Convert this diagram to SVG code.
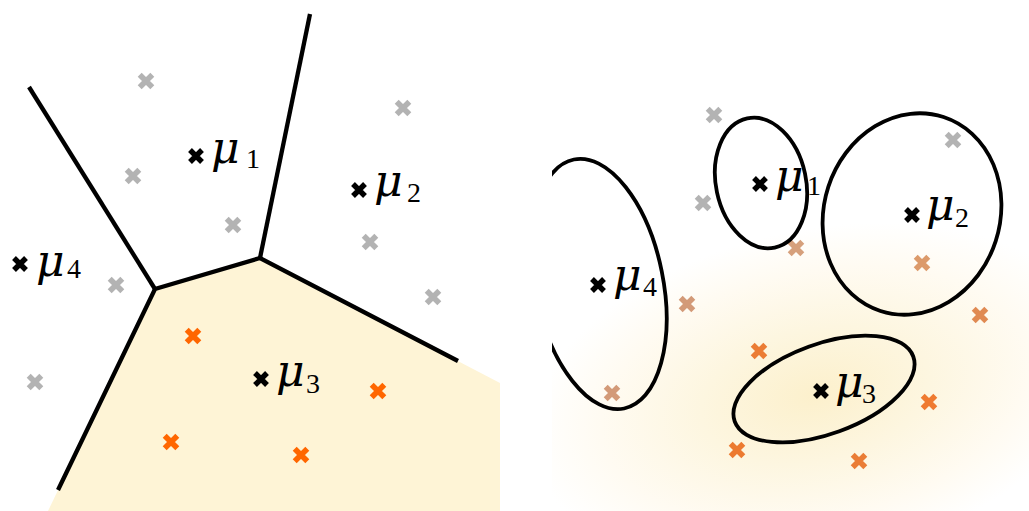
<svg xmlns="http://www.w3.org/2000/svg" width="1029" height="511" viewBox="0 0 1029 511">
  <style>
    .wall { fill: none; stroke: #000; stroke-width: 4.3; stroke-linejoin: miter; }
    .ell { fill: none; stroke: #000; stroke-width: 3.8; }
    .mu { font-family: "DejaVu Serif", "Liberation Serif", serif; font-style: italic; font-size: 44px; fill: #000; }
    .sub { font-family: "Liberation Serif", "DejaVu Serif", serif; font-size: 28px; fill: #000; }
  </style>
  <defs>
    <path id="x" d="M-6.3,-6.3 L6.3,6.3 M-6.3,6.3 L6.3,-6.3" stroke-width="5.6" fill="none"/>
    <path id="xb" d="M-6,-6 L6,6 M-6,6 L6,-6" stroke="#000" stroke-width="5.4" fill="none"/>
    <radialGradient id="glow" gradientUnits="userSpaceOnUse" cx="0" cy="0" r="1" gradientTransform="translate(815 395) rotate(-12) scale(290 165)">
      <stop offset="0" stop-color="#fcf0cc"/>
      <stop offset="0.4" stop-color="#fdf6e0"/>
      <stop offset="0.75" stop-color="#fffbf2"/>
      <stop offset="1" stop-color="#ffffff"/>
    </radialGradient>
    <clipPath id="rclip"><rect x="552" y="0" width="477" height="511"/></clipPath>
  </defs>
  <rect width="1029" height="511" fill="#fff"/>

  <!-- LEFT PANEL -->
  <g id="left-region3">
    <polygon points="155,289 260,258 500,383 500,511 48,511" fill="#fef4d6"/>
  </g>
  <g id="connectors">
    <line class="wall" x1="29" y1="87" x2="155" y2="289"/>
    <line class="wall" x1="310" y1="14" x2="260" y2="258"/>
    <polyline class="wall" points="58,490 155,289 260,258 458,361"/>
  </g>
  <g id="left-points">
    <g stroke="#b3b3b3">
      <use href="#x" x="146" y="81"/>
      <use href="#x" x="403" y="108"/>
      <use href="#x" x="133" y="176"/>
      <use href="#x" x="233" y="225"/>
      <use href="#x" x="370" y="242"/>
      <use href="#x" x="116" y="285"/>
      <use href="#x" x="433" y="297"/>
      <use href="#x" x="35" y="382"/>
    </g>
    <g stroke="#ff6600">
      <use href="#x" x="193" y="336"/>
      <use href="#x" x="378" y="391"/>
      <use href="#x" x="171" y="442"/>
      <use href="#x" x="301" y="455"/>
    </g>
  </g>
  <g id="left-mu1">
    <use href="#xb" x="196" y="156"/>
    <text class="mu" x="211" y="163">μ</text><text class="sub" x="246" y="168">1</text>
  </g>
  <g id="left-mu2">
    <use href="#xb" x="359" y="190"/>
    <text class="mu" x="374" y="196">μ</text><text class="sub" x="407" y="202">2</text>
  </g>
  <g id="left-mu3">
    <use href="#xb" x="261" y="379"/>
    <text class="mu" x="276" y="386">μ</text><text class="sub" x="306" y="393">3</text>
  </g>
  <g id="left-mu4">
    <use href="#xb" x="20" y="264"/>
    <text class="mu" x="36" y="276">μ</text><text class="sub" x="67" y="278">4</text>
  </g>

  <!-- RIGHT PANEL -->
  <g clip-path="url(#rclip)">
    <rect x="552" y="0" width="477" height="511" fill="url(#glow)"/>
    <g id="right-points">
      <g stroke="#b3b3b3">
        <use href="#x" x="714" y="115"/>
        <use href="#x" x="703" y="203"/>
        <use href="#x" x="953" y="140"/>
      </g>
      <use href="#x" x="796" y="248" stroke="#d6a07c"/>
      <use href="#x" x="922" y="263" stroke="#dc9a6a"/>
      <use href="#x" x="687" y="304" stroke="#d39a78"/>
      <use href="#x" x="980" y="315" stroke="#e08a52"/>
      <use href="#x" x="612" y="393" stroke="#d39a78"/>
      <use href="#x" x="759" y="351" stroke="#eb7c34"/>
      <use href="#x" x="929" y="402" stroke="#ef7a30"/>
      <use href="#x" x="737" y="450" stroke="#ec7a30"/>
      <use href="#x" x="859" y="461" stroke="#ea7d36"/>
    </g>
    <g id="right-mu4">
      <ellipse class="ell" cx="0" cy="0" rx="64" ry="127" transform="translate(599 284) rotate(-11.4)"/>
      <use href="#xb" x="598" y="285"/>
      <text class="mu" x="613" y="290">μ</text><text class="sub" x="643" y="296">4</text>
    </g>
    <g id="right-mu1">
      <ellipse class="ell" cx="0" cy="0" rx="45" ry="66" transform="translate(761 183) rotate(-12)"/>
      <use href="#xb" x="760" y="184"/>
      <text class="mu" x="775" y="191">μ</text><text class="sub" x="807" y="195">1</text>
    </g>
    <g id="right-mu2">
      <ellipse class="ell" cx="0" cy="0" rx="88" ry="102" transform="translate(912 214) rotate(18)"/>
      <use href="#xb" x="912" y="215"/>
      <text class="mu" x="926" y="220">μ</text><text class="sub" x="955" y="227">2</text>
    </g>
    <g id="right-mu3">
      <ellipse class="ell" cx="0" cy="0" rx="95" ry="45" transform="translate(824 389) rotate(-20)"/>
      <use href="#xb" x="821" y="391"/>
      <text class="mu" x="835" y="397">μ</text><text class="sub" x="862" y="403">3</text>
    </g>
  </g>
</svg>
